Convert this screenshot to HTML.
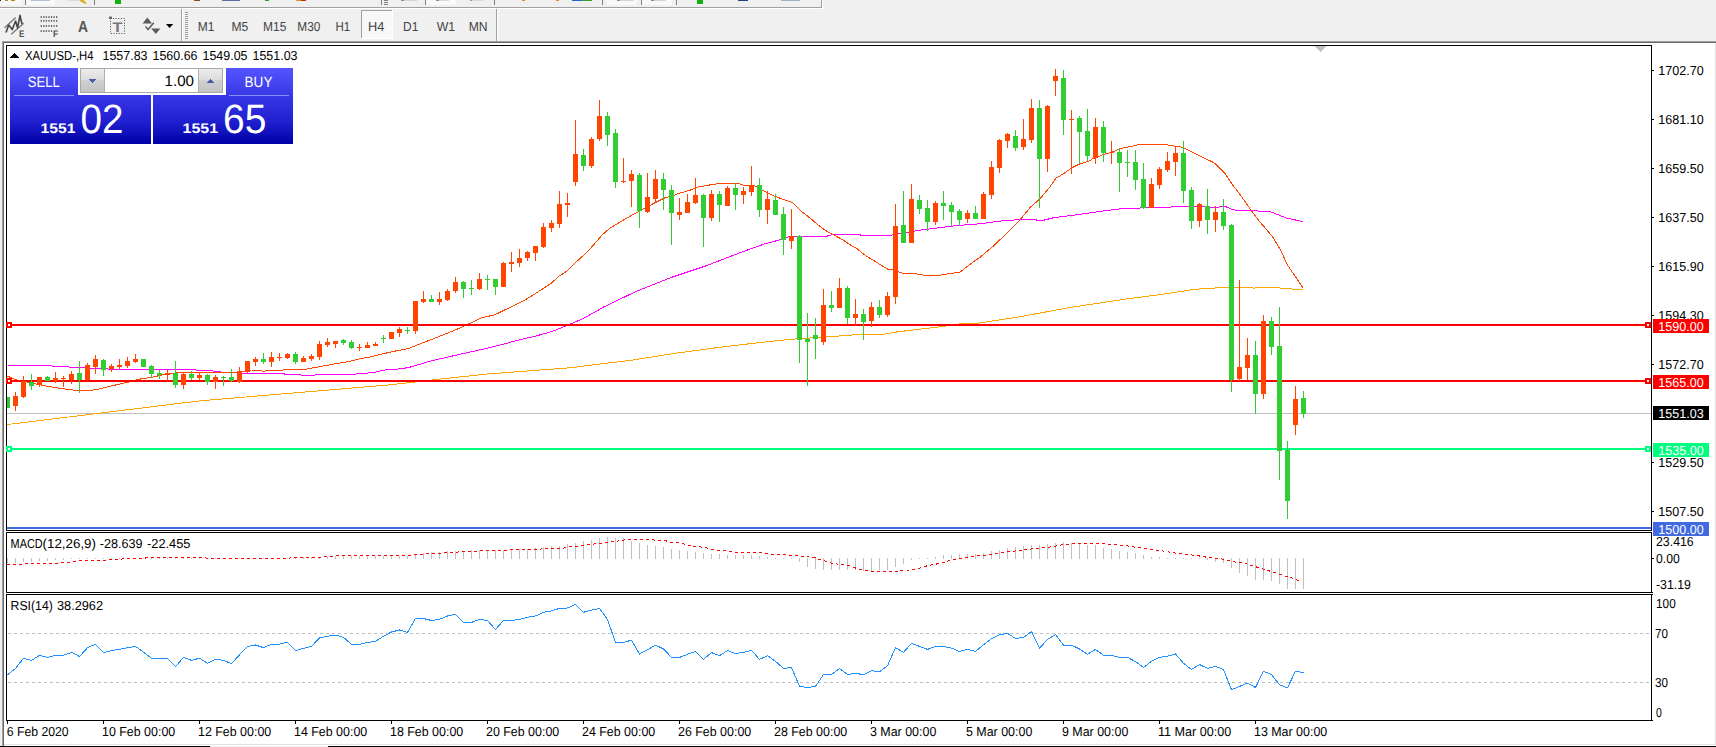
<!DOCTYPE html>
<html lang="en"><head><meta charset="utf-8"><title>XAUUSD-,H4</title>
<style>html,body{margin:0;padding:0;background:#f0f0f0;overflow:hidden}body{width:1716px;height:747px;font-family:"Liberation Sans",sans-serif}svg{display:block}</style>
</head><body>
<svg width="1716" height="747" viewBox="0 0 1716 747" shape-rendering="crispEdges" font-family="'Liberation Sans', sans-serif" text-rendering="geometricPrecision">
<rect x="0" y="0" width="1716" height="747" fill="#f0f0f0"/>
<rect x="0" y="7" width="822" height="1" fill="#a0a0a0"/>
<rect x="0" y="8" width="823" height="1" fill="#ffffff"/>
<rect x="821" y="0" width="1" height="8" fill="#a0a0a0"/>
<rect x="822" y="0" width="1" height="9" fill="#ffffff"/>
<rect x="0" y="0" width="21" height="5" fill="#f9f9f9"/>
<rect x="27" y="0" width="28" height="5" fill="#f9f9f9"/>
<rect x="426" y="0" width="30" height="5" fill="#f9f9f9"/>
<rect x="607" y="0" width="30" height="5" fill="#f9f9f9"/>
<rect x="642" y="0" width="30" height="5" fill="#f9f9f9"/>
<rect x="25" y="0" width="1" height="5" fill="#808080"/>
<rect x="94" y="0" width="1" height="5" fill="#808080"/>
<rect x="381" y="0" width="1" height="5" fill="#808080"/>
<rect x="425" y="0" width="1" height="5" fill="#808080"/>
<rect x="494" y="0" width="1" height="5" fill="#808080"/>
<rect x="602" y="0" width="1" height="5" fill="#808080"/>
<rect x="641" y="0" width="1" height="5" fill="#808080"/>
<rect x="676" y="0" width="1" height="5" fill="#808080"/>
<rect x="5" y="0" width="3" height="1" fill="#b88428"/>
<rect x="11" y="0" width="4" height="1" fill="#b88428"/>
<rect x="0" y="0" width="1" height="1" fill="#202020"/>
<rect x="31" y="0" width="19" height="1" fill="#b4c0d2"/>
<path d="M79 0 L83.5 0 L87 3 L85 4 L80.5 1.5 Z" fill="#e2b030" shape-rendering="geometricPrecision"/>
<rect x="67" y="0" width="12" height="1" fill="#dcdcdc"/>
<rect x="115" y="0" width="6" height="4" fill="#10b010"/>
<rect x="194" y="0" width="6" height="1" fill="#8a4a10"/>
<rect x="222" y="0" width="18" height="1" fill="#5a70a8"/>
<rect x="265" y="0" width="4" height="1" fill="#30a030"/>
<rect x="296" y="0" width="5" height="1" fill="#d0a010"/>
<rect x="301" y="0" width="5" height="1" fill="#c03010"/>
<rect x="522" y="0" width="3" height="1" fill="#d09020"/>
<rect x="556" y="0" width="3" height="1" fill="#d09020"/>
<rect x="572" y="0" width="10" height="1" fill="#3060d0"/>
<rect x="582" y="0" width="10" height="1" fill="#30a030"/>
<rect x="697" y="0" width="6" height="4" fill="#16b016"/>
<rect x="738" y="0" width="10" height="1" fill="#204080"/>
<rect x="781" y="0" width="19" height="1" fill="#a0b0c8"/>
<rect x="384" y="0" width="4" height="1" fill="#808080"/>
<rect x="384" y="2" width="4" height="1" fill="#808080"/>
<rect x="384" y="4" width="4" height="1" fill="#808080"/>
<rect x="401" y="0" width="16" height="1" fill="#d4d4d4"/>
<rect x="401" y="0" width="3" height="1" fill="#8a8a8a"/>
<rect x="436" y="0" width="13" height="1" fill="#d9d9d9"/>
<rect x="436" y="0" width="3" height="1" fill="#8a8a8a"/>
<rect x="470" y="0" width="14" height="1" fill="#dcdcdc"/>
<rect x="470" y="0" width="2" height="1" fill="#9a9a9a"/>
<rect x="617" y="0" width="3" height="1" fill="#8a8a8a"/>
<rect x="620" y="0" width="14" height="1" fill="#d4d4d4"/>
<rect x="651" y="0" width="3" height="1" fill="#8a8a8a"/>
<rect x="654" y="0" width="12" height="1" fill="#d4d4d4"/>
<rect x="181" y="9" width="1" height="32" fill="#a0a0a0"/>
<rect x="182" y="9" width="1" height="32" fill="#ffffff"/>
<rect x="185" y="12" width="3" height="1" fill="#a0a0a0"/>
<rect x="185" y="14" width="3" height="1" fill="#a0a0a0"/>
<rect x="185" y="16" width="3" height="1" fill="#a0a0a0"/>
<rect x="185" y="18" width="3" height="1" fill="#a0a0a0"/>
<rect x="185" y="20" width="3" height="1" fill="#a0a0a0"/>
<rect x="185" y="22" width="3" height="1" fill="#a0a0a0"/>
<rect x="185" y="24" width="3" height="1" fill="#a0a0a0"/>
<rect x="185" y="26" width="3" height="1" fill="#a0a0a0"/>
<rect x="185" y="28" width="3" height="1" fill="#a0a0a0"/>
<rect x="185" y="30" width="3" height="1" fill="#a0a0a0"/>
<rect x="185" y="32" width="3" height="1" fill="#a0a0a0"/>
<rect x="185" y="34" width="3" height="1" fill="#a0a0a0"/>
<rect x="185" y="36" width="3" height="1" fill="#a0a0a0"/>
<rect x="185" y="38" width="3" height="1" fill="#a0a0a0"/>
<rect x="496" y="9" width="1" height="32" fill="#a0a0a0"/>
<rect x="497" y="9" width="1" height="32" fill="#ffffff"/>
<rect x="361" y="10" width="32" height="29" fill="#f8f8f8"/>
<rect x="361" y="10" width="32" height="1" fill="#a0a0a0"/>
<rect x="361" y="10" width="1" height="29" fill="#a0a0a0"/>
<rect x="361" y="38" width="32" height="1" fill="#ffffff"/>
<rect x="392" y="10" width="1" height="29" fill="#ffffff"/>
<text x="197.7" y="30.6" font-size="13" fill="#454545" textLength="16.6" lengthAdjust="spacingAndGlyphs">M1</text>
<text x="231.5" y="30.6" font-size="13" fill="#454545" textLength="16.8" lengthAdjust="spacingAndGlyphs">M5</text>
<text x="263.0" y="30.6" font-size="13" fill="#454545" textLength="23.3" lengthAdjust="spacingAndGlyphs">M15</text>
<text x="297.3" y="30.6" font-size="13" fill="#454545" textLength="23.0" lengthAdjust="spacingAndGlyphs">M30</text>
<text x="335.5" y="30.6" font-size="13" fill="#454545" textLength="14.7" lengthAdjust="spacingAndGlyphs">H1</text>
<text x="368.0" y="30.6" font-size="13" fill="#454545" textLength="16.3" lengthAdjust="spacingAndGlyphs">H4</text>
<text x="403.09999999999997" y="30.6" font-size="13" fill="#454545" textLength="15.299999999999999" lengthAdjust="spacingAndGlyphs">D1</text>
<text x="436.7" y="30.6" font-size="13" fill="#454545" textLength="18.400000000000002" lengthAdjust="spacingAndGlyphs">W1</text>
<text x="468.7" y="30.6" font-size="13" fill="#454545" textLength="18.900000000000002" lengthAdjust="spacingAndGlyphs">MN</text>
<g shape-rendering="geometricPrecision">
<path d="M4.6 27.8 L15.7 17.6 M11.2 34.2 L23.7 23.2" stroke="#7a7a7a" stroke-width="1.4" fill="none"/>
<path d="M6 32.6 L8.7 25 L12.2 29.6 L15.6 21 L17.6 28 L20 15.4 L22 24" stroke="#484848" stroke-width="1.6" fill="none" stroke-linejoin="round"/>
<text x="19" y="36.8" font-size="9.5" fill="#505050" textLength="5.4" lengthAdjust="spacingAndGlyphs" font-weight="bold">E</text>
<rect x="40.60" y="16.1" width="1.3" height="1.9" fill="#686868"/>
<rect x="43.17" y="16.1" width="1.3" height="1.9" fill="#686868"/>
<rect x="45.74" y="16.1" width="1.3" height="1.9" fill="#686868"/>
<rect x="48.31" y="16.1" width="1.3" height="1.9" fill="#686868"/>
<rect x="50.88" y="16.1" width="1.3" height="1.9" fill="#686868"/>
<rect x="53.45" y="16.1" width="1.3" height="1.9" fill="#686868"/>
<rect x="56.02" y="16.1" width="1.3" height="1.9" fill="#686868"/>
<rect x="40.60" y="19.9" width="1.3" height="1.9" fill="#686868"/>
<rect x="43.17" y="19.9" width="1.3" height="1.9" fill="#686868"/>
<rect x="45.74" y="19.9" width="1.3" height="1.9" fill="#686868"/>
<rect x="48.31" y="19.9" width="1.3" height="1.9" fill="#686868"/>
<rect x="50.88" y="19.9" width="1.3" height="1.9" fill="#686868"/>
<rect x="53.45" y="19.9" width="1.3" height="1.9" fill="#686868"/>
<rect x="56.02" y="19.9" width="1.3" height="1.9" fill="#686868"/>
<rect x="40.60" y="25.0" width="1.3" height="1.9" fill="#686868"/>
<rect x="43.17" y="25.0" width="1.3" height="1.9" fill="#686868"/>
<rect x="45.74" y="25.0" width="1.3" height="1.9" fill="#686868"/>
<rect x="48.31" y="25.0" width="1.3" height="1.9" fill="#686868"/>
<rect x="50.88" y="25.0" width="1.3" height="1.9" fill="#686868"/>
<rect x="53.45" y="25.0" width="1.3" height="1.9" fill="#686868"/>
<rect x="56.02" y="25.0" width="1.3" height="1.9" fill="#686868"/>
<rect x="40.60" y="30.1" width="1.3" height="1.9" fill="#686868"/>
<rect x="43.17" y="30.1" width="1.3" height="1.9" fill="#686868"/>
<rect x="45.74" y="30.1" width="1.3" height="1.9" fill="#686868"/>
<rect x="48.31" y="30.1" width="1.3" height="1.9" fill="#686868"/>
<rect x="50.88" y="30.1" width="1.3" height="1.9" fill="#686868"/>
<text x="53" y="36.8" font-size="9.5" fill="#505050" textLength="5.2" lengthAdjust="spacingAndGlyphs" font-weight="bold">F</text>
<text x="78" y="32" font-size="16" fill="#555" textLength="10" lengthAdjust="spacingAndGlyphs" font-weight="bold">A</text>
<rect x="110.5" y="18.5" width="14" height="15" fill="none" stroke="#444" stroke-width="1" stroke-dasharray="1 1.6"/>
<rect x="109" y="16.6" width="3" height="2.4" fill="#666"/>
<text x="112.5" y="31.5" font-size="14" fill="#777" textLength="10" lengthAdjust="spacingAndGlyphs" font-weight="bold">T</text>
<path d="M142.6 23.4 L147.3 17.6 L152 23.4 Z M151.2 28.4 L160.4 28.4 L155.8 34 Z" fill="#5c5c5c"/><path d="M145.4 26.4 L148 29.6 L153.8 22.8" stroke="#5c5c5c" stroke-width="1.5" fill="none"/>
<path d="M166 24 L173.2 24 L169.6 28 Z" fill="#000"/>
</g>
<rect x="0" y="41" width="1716" height="1" fill="#a0a0a0"/>
<rect x="0" y="42" width="1716" height="1" fill="#696969"/>
<rect x="0" y="41" width="2" height="706" fill="#f0f0f0"/>
<rect x="2" y="41" width="1" height="706" fill="#a0a0a0"/>
<rect x="3" y="42" width="1" height="705" fill="#696969"/>
<rect x="4" y="43" width="1711" height="701" fill="#ffffff"/>
<rect x="1715" y="43" width="1" height="701" fill="#e3e3e3"/>
<rect x="4" y="744" width="1712" height="1" fill="#e3e3e3"/>
<rect x="4" y="745" width="1712" height="1" fill="#ffffff"/>
<rect x="0" y="746" width="210" height="1" fill="#000"/>
<rect x="210" y="746" width="118" height="1" fill="#f0f0f0"/>
<rect x="328" y="746" width="1388" height="1" fill="#000"/>
<rect x="6" y="45" width="1646" height="1" fill="#000"/>
<rect x="6" y="530" width="1646" height="1" fill="#000"/>
<rect x="6" y="45" width="1" height="486" fill="#000"/>
<rect x="1651" y="45" width="1" height="486" fill="#000"/>
<rect x="6" y="532" width="1646" height="1" fill="#000"/>
<rect x="6" y="592" width="1646" height="1" fill="#000"/>
<rect x="6" y="532" width="1" height="61" fill="#000"/>
<rect x="1651" y="532" width="1" height="61" fill="#000"/>
<rect x="6" y="594" width="1646" height="1" fill="#000"/>
<rect x="6" y="720" width="1646" height="1" fill="#000"/>
<rect x="6" y="594" width="1" height="127" fill="#000"/>
<rect x="1651" y="594" width="1" height="127" fill="#000"/>
<path d="M1314 46 L1326 46 L1320 52 Z" fill="#c0c0c0"/>
<rect x="7" y="413" width="1646" height="1" fill="#c0c0c0"/>
<polyline points="7.5,424.5 200.5,400.8 251.5,396.5 390.5,384.8 438.3,379.3 486.1,374.1 533.9,370.5 572.1,367.6 605.5,363.3 629.5,360.5 677.2,353.0 725.0,346.6 772.8,341.1 797.9,338.7 815.5,337.7 862.1,334.3 883.1,334.3 897.1,331.9 947.2,325.9 963.5,323.2 978.7,323.1 1016.5,317.3 1072.4,307.1 1128.3,298.7 1160.5,294.6 1179.1,291.7 1195.5,289.2 1218.8,287.8 1251.4,287.2 1253.7,288.3 1259.5,287.2 1275.9,287.2 1285.2,288.9 1303.3,289.2" fill="none" stroke="#FFA500" stroke-width="1"/>
<polyline points="7.5,365.3 51.5,365.3 52.5,366.6 68.5,366.6 69.5,367.6 84.5,367.6 85.5,368.8 107.5,368.8 108.5,369.7 195.5,369.7 196.5,370.4 211.5,370.4 213.0,371.2 220.0,371.2 221.0,372.5 236.5,372.7 237.5,373.0 244.5,373.5 284.1,373.5 285.2,374.7 300.5,374.7 301.5,375.5 314.5,375.5 315.5,374.5 355.2,374.5 356.3,373.5 370.3,372.9 377.3,371.8 382.0,370.6 387.8,369.6 395.5,369.4 408.5,367.6 431.1,360.9 462.2,353.8 486.1,348.5 501.4,344.7 519.0,339.9 535.1,336.2 551.2,331.8 567.2,325.4 583.3,318.5 600.5,308.9 604.0,306.8 635.5,291.7 670.5,277.7 705.5,266.0 740.4,252.6 763.7,244.2 782.3,239.2 789.3,236.5 827.1,236.2 828.3,235.3 835.3,234.4 859.8,234.4 860.9,235.3 891.2,235.3 893.5,234.1 908.7,232.1 920.4,230.1 932.0,228.6 943.7,227.2 955.3,225.7 960.5,225.5 967.0,224.5 979.1,223.9 1003.6,220.6 1018.8,219.7 1036.3,219.7 1037.4,220.6 1042.1,220.6 1053.7,217.7 1077.0,214.8 1100.4,211.3 1123.7,208.4 1160.5,207.5 1171.0,207.0 1172.2,206.1 1203.5,206.1 1204.8,207.0 1218.8,207.0 1219.9,206.1 1225.2,206.1 1226.5,207.0 1230.4,208.8 1237.4,210.8 1267.7,211.1 1272.4,212.5 1286.4,218.0 1294.5,219.8 1303.3,221.7" fill="none" stroke="#FF00FF" stroke-width="1"/>
<polyline points="7.5,376.1 15.5,379.6 40.1,384.9 56.5,387.8 68.1,389.5 79.5,390.7 91.5,390.3 99.5,389.0 111.2,386.0 128.5,382.0 140.5,379.0 152.0,377.3 163.5,374.6 175.5,372.9 181.2,372.3 200.5,372.5 237.5,372.9 244.5,371.2 251.5,370.0 258.5,370.0 263.1,371.2 267.5,370.8 282.9,370.0 306.2,369.1 323.7,365.9 335.4,363.8 347.0,361.9 358.7,359.0 370.3,357.0 382.0,354.0 395.5,351.0 408.5,348.5 417.8,344.7 438.7,336.7 454.8,330.2 470.8,323.0 480.5,318.2 494.9,314.7 511.0,306.9 523.9,300.5 535.1,293.8 551.2,283.2 559.2,276.1 567.2,270.8 575.3,262.8 583.3,255.5 591.3,247.5 602.2,234.9 610.3,227.9 625.5,218.8 639.5,211.0 653.5,203.5 666.3,197.1 672.1,196.7 677.9,193.6 689.5,190.4 697.7,187.1 707.1,185.4 716.4,183.9 724.5,183.1 737.4,183.1 743.2,185.0 753.7,185.5 758.3,187.7 765.3,191.8 774.6,196.2 781.6,198.8 792.2,202.4 800.3,210.5 810.8,218.7 819.0,225.7 827.1,231.5 834.1,235.0 843.4,240.3 850.4,244.9 857.4,249.0 864.4,254.8 876.1,262.0 887.7,269.2 893.5,269.9 902.9,273.3 914.5,273.6 926.2,275.6 937.8,275.6 949.5,273.6 960.0,272.2 967.0,266.7 973.4,261.8 980.5,256.9 992.5,246.8 1004.8,235.2 1019.9,220.0 1030.4,207.2 1039.8,199.0 1049.1,188.0 1056.1,178.1 1063.1,174.0 1071.2,168.2 1077.0,165.2 1089.9,160.6 1092.1,159.1 1103.7,154.5 1111.9,152.1 1121.2,148.4 1130.5,146.6 1139.8,144.3 1164.3,144.3 1172.2,145.7 1182.6,147.2 1200.1,156.2 1211.8,161.6 1215.3,163.6 1224.6,172.9 1232.8,185.1 1242.1,197.4 1250.2,209.0 1259.6,221.5 1272.4,236.5 1280.5,249.9 1287.5,265.0 1303.3,288.3" fill="none" stroke="#FF4500" stroke-width="1"/>
<rect x="7" y="324" width="1644" height="2" fill="#FF0000"/>
<rect x="6" y="322" width="6" height="6" fill="#FF0000"/>
<rect x="8" y="324" width="2" height="2" fill="#fff"/>
<rect x="1645" y="322" width="6" height="6" fill="#FF0000"/>
<rect x="1647" y="324" width="2" height="2" fill="#fff"/>
<rect x="7" y="380" width="1644" height="2" fill="#FF0000"/>
<rect x="6" y="378" width="6" height="6" fill="#FF0000"/>
<rect x="8" y="380" width="2" height="2" fill="#fff"/>
<rect x="1645" y="378" width="6" height="6" fill="#FF0000"/>
<rect x="1647" y="380" width="2" height="2" fill="#fff"/>
<rect x="7" y="448" width="1644" height="2" fill="#00FF7F"/>
<rect x="6" y="446" width="6" height="6" fill="#00FF7F"/>
<rect x="8" y="448" width="2" height="2" fill="#fff"/>
<rect x="1645" y="446" width="6" height="6" fill="#00FF7F"/>
<rect x="1647" y="448" width="2" height="2" fill="#fff"/>
<rect x="7" y="527" width="1644" height="2" fill="#4169E1"/>
<rect x="1651" y="45" width="1" height="486" fill="#000"/>
<rect x="6" y="45" width="1" height="486" fill="#000"/>
<rect x="6" y="322" width="6" height="6" fill="#FF0000"/>
<rect x="8" y="324" width="2" height="2" fill="#fff"/>
<rect x="6" y="378" width="6" height="6" fill="#FF0000"/>
<rect x="8" y="380" width="2" height="2" fill="#fff"/>
<rect x="6" y="446" width="6" height="6" fill="#00FF7F"/>
<rect x="8" y="448" width="2" height="2" fill="#fff"/>
<rect x="7" y="397" width="1" height="11" fill="#32CD32"/>
<rect x="7" y="397" width="3" height="11" fill="#32CD32"/>
<rect x="15" y="392" width="1" height="19" fill="#FF4500"/>
<rect x="13" y="396" width="5" height="10" fill="#FF4500"/>
<rect x="23" y="376" width="1" height="22" fill="#FF4500"/>
<rect x="21" y="381" width="5" height="16" fill="#FF4500"/>
<rect x="31" y="374" width="1" height="16" fill="#32CD32"/>
<rect x="29" y="382" width="5" height="4" fill="#32CD32"/>
<rect x="39" y="377" width="1" height="10" fill="#FF4500"/>
<rect x="37" y="377" width="5" height="8" fill="#FF4500"/>
<rect x="47" y="376" width="1" height="5" fill="#32CD32"/>
<rect x="45" y="377" width="5" height="4" fill="#32CD32"/>
<rect x="55" y="372" width="1" height="11" fill="#FF4500"/>
<rect x="53" y="378" width="5" height="3" fill="#FF4500"/>
<rect x="63" y="376" width="1" height="11" fill="#FF4500"/>
<rect x="61" y="378" width="5" height="1" fill="#FF4500"/>
<rect x="71" y="371" width="1" height="13" fill="#FF4500"/>
<rect x="69" y="374" width="5" height="6" fill="#FF4500"/>
<rect x="79" y="361" width="1" height="32" fill="#32CD32"/>
<rect x="77" y="373" width="5" height="7" fill="#32CD32"/>
<rect x="87" y="363" width="1" height="18" fill="#FF4500"/>
<rect x="85" y="365" width="5" height="15" fill="#FF4500"/>
<rect x="95" y="355" width="1" height="19" fill="#FF4500"/>
<rect x="93" y="359" width="5" height="8" fill="#FF4500"/>
<rect x="103" y="359" width="1" height="17" fill="#32CD32"/>
<rect x="101" y="360" width="5" height="10" fill="#32CD32"/>
<rect x="111" y="364" width="1" height="8" fill="#FF4500"/>
<rect x="109" y="366" width="5" height="3" fill="#FF4500"/>
<rect x="119" y="359" width="1" height="11" fill="#FF4500"/>
<rect x="117" y="365" width="5" height="2" fill="#FF4500"/>
<rect x="127" y="357" width="1" height="11" fill="#FF4500"/>
<rect x="125" y="361" width="5" height="5" fill="#FF4500"/>
<rect x="135" y="354" width="1" height="9" fill="#FF4500"/>
<rect x="133" y="359" width="5" height="3" fill="#FF4500"/>
<rect x="143" y="359" width="1" height="8" fill="#32CD32"/>
<rect x="141" y="359" width="5" height="8" fill="#32CD32"/>
<rect x="151" y="365" width="1" height="13" fill="#32CD32"/>
<rect x="149" y="366" width="5" height="8" fill="#32CD32"/>
<rect x="159" y="370" width="1" height="9" fill="#32CD32"/>
<rect x="157" y="373" width="5" height="2" fill="#32CD32"/>
<rect x="167" y="370" width="1" height="11" fill="#FF4500"/>
<rect x="165" y="373" width="5" height="2" fill="#FF4500"/>
<rect x="175" y="361" width="1" height="27" fill="#32CD32"/>
<rect x="173" y="373" width="5" height="12" fill="#32CD32"/>
<rect x="183" y="373" width="1" height="16" fill="#FF4500"/>
<rect x="181" y="374" width="5" height="11" fill="#FF4500"/>
<rect x="191" y="371" width="1" height="9" fill="#32CD32"/>
<rect x="189" y="374" width="5" height="4" fill="#32CD32"/>
<rect x="199" y="373" width="1" height="7" fill="#FF4500"/>
<rect x="197" y="375" width="5" height="3" fill="#FF4500"/>
<rect x="207" y="374" width="1" height="11" fill="#32CD32"/>
<rect x="205" y="375" width="5" height="7" fill="#32CD32"/>
<rect x="215" y="375" width="1" height="14" fill="#FF4500"/>
<rect x="213" y="377" width="5" height="5" fill="#FF4500"/>
<rect x="223" y="376" width="1" height="10" fill="#32CD32"/>
<rect x="221" y="377" width="5" height="1" fill="#32CD32"/>
<rect x="231" y="369" width="1" height="13" fill="#32CD32"/>
<rect x="229" y="377" width="5" height="4" fill="#32CD32"/>
<rect x="239" y="367" width="1" height="16" fill="#FF4500"/>
<rect x="237" y="371" width="5" height="11" fill="#FF4500"/>
<rect x="247" y="361" width="1" height="12" fill="#FF4500"/>
<rect x="245" y="361" width="5" height="11" fill="#FF4500"/>
<rect x="255" y="357" width="1" height="9" fill="#FF4500"/>
<rect x="253" y="359" width="5" height="3" fill="#FF4500"/>
<rect x="263" y="353" width="1" height="11" fill="#32CD32"/>
<rect x="261" y="359" width="5" height="3" fill="#32CD32"/>
<rect x="271" y="352" width="1" height="15" fill="#FF4500"/>
<rect x="269" y="357" width="5" height="5" fill="#FF4500"/>
<rect x="279" y="353" width="1" height="8" fill="#FF4500"/>
<rect x="277" y="357" width="5" height="1" fill="#FF4500"/>
<rect x="287" y="353" width="1" height="6" fill="#FF4500"/>
<rect x="285" y="354" width="5" height="4" fill="#FF4500"/>
<rect x="295" y="352" width="1" height="12" fill="#32CD32"/>
<rect x="293" y="354" width="5" height="8" fill="#32CD32"/>
<rect x="303" y="356" width="1" height="6" fill="#FF4500"/>
<rect x="301" y="358" width="5" height="4" fill="#FF4500"/>
<rect x="311" y="354" width="1" height="7" fill="#FF4500"/>
<rect x="309" y="356" width="5" height="3" fill="#FF4500"/>
<rect x="319" y="341" width="1" height="19" fill="#FF4500"/>
<rect x="317" y="344" width="5" height="13" fill="#FF4500"/>
<rect x="327" y="338" width="1" height="9" fill="#FF4500"/>
<rect x="325" y="342" width="5" height="3" fill="#FF4500"/>
<rect x="335" y="341" width="1" height="7" fill="#FF4500"/>
<rect x="333" y="341" width="5" height="3" fill="#FF4500"/>
<rect x="343" y="339" width="1" height="6" fill="#32CD32"/>
<rect x="341" y="340" width="5" height="3" fill="#32CD32"/>
<rect x="351" y="340" width="1" height="9" fill="#32CD32"/>
<rect x="349" y="342" width="5" height="6" fill="#32CD32"/>
<rect x="359" y="344" width="1" height="7" fill="#FF4500"/>
<rect x="357" y="347" width="5" height="1" fill="#FF4500"/>
<rect x="367" y="342" width="1" height="6" fill="#FF4500"/>
<rect x="365" y="345" width="5" height="3" fill="#FF4500"/>
<rect x="375" y="342" width="1" height="4" fill="#FF4500"/>
<rect x="373" y="344" width="5" height="2" fill="#FF4500"/>
<rect x="383" y="335" width="1" height="8" fill="#32CD32"/>
<rect x="381" y="338" width="5" height="1" fill="#32CD32"/>
<rect x="391" y="332" width="1" height="7" fill="#FF4500"/>
<rect x="389" y="332" width="5" height="7" fill="#FF4500"/>
<rect x="399" y="327" width="1" height="10" fill="#FF4500"/>
<rect x="397" y="329" width="5" height="4" fill="#FF4500"/>
<rect x="407" y="327" width="1" height="7" fill="#32CD32"/>
<rect x="405" y="330" width="5" height="1" fill="#32CD32"/>
<rect x="415" y="301" width="1" height="33" fill="#FF4500"/>
<rect x="413" y="301" width="5" height="30" fill="#FF4500"/>
<rect x="423" y="291" width="1" height="12" fill="#FF4500"/>
<rect x="421" y="299" width="5" height="3" fill="#FF4500"/>
<rect x="431" y="295" width="1" height="7" fill="#32CD32"/>
<rect x="429" y="299" width="5" height="3" fill="#32CD32"/>
<rect x="439" y="292" width="1" height="13" fill="#FF4500"/>
<rect x="437" y="299" width="5" height="3" fill="#FF4500"/>
<rect x="447" y="289" width="1" height="12" fill="#FF4500"/>
<rect x="445" y="291" width="5" height="9" fill="#FF4500"/>
<rect x="455" y="277" width="1" height="16" fill="#FF4500"/>
<rect x="453" y="282" width="5" height="9" fill="#FF4500"/>
<rect x="463" y="281" width="1" height="17" fill="#32CD32"/>
<rect x="461" y="282" width="5" height="7" fill="#32CD32"/>
<rect x="471" y="280" width="1" height="15" fill="#32CD32"/>
<rect x="469" y="288" width="5" height="1" fill="#32CD32"/>
<rect x="479" y="273" width="1" height="17" fill="#FF4500"/>
<rect x="477" y="279" width="5" height="10" fill="#FF4500"/>
<rect x="487" y="275" width="1" height="15" fill="#32CD32"/>
<rect x="485" y="279" width="5" height="1" fill="#32CD32"/>
<rect x="495" y="279" width="1" height="16" fill="#32CD32"/>
<rect x="493" y="279" width="5" height="8" fill="#32CD32"/>
<rect x="503" y="262" width="1" height="25" fill="#FF4500"/>
<rect x="501" y="263" width="5" height="24" fill="#FF4500"/>
<rect x="511" y="252" width="1" height="20" fill="#FF4500"/>
<rect x="509" y="262" width="5" height="2" fill="#FF4500"/>
<rect x="519" y="249" width="1" height="18" fill="#FF4500"/>
<rect x="517" y="258" width="5" height="5" fill="#FF4500"/>
<rect x="527" y="251" width="1" height="10" fill="#FF4500"/>
<rect x="525" y="252" width="5" height="6" fill="#FF4500"/>
<rect x="535" y="246" width="1" height="15" fill="#FF4500"/>
<rect x="533" y="246" width="5" height="7" fill="#FF4500"/>
<rect x="543" y="223" width="1" height="25" fill="#FF4500"/>
<rect x="541" y="227" width="5" height="20" fill="#FF4500"/>
<rect x="551" y="220" width="1" height="12" fill="#FF4500"/>
<rect x="549" y="223" width="5" height="5" fill="#FF4500"/>
<rect x="559" y="191" width="1" height="37" fill="#FF4500"/>
<rect x="557" y="204" width="5" height="20" fill="#FF4500"/>
<rect x="567" y="193" width="1" height="24" fill="#FF4500"/>
<rect x="565" y="203" width="5" height="2" fill="#FF4500"/>
<rect x="575" y="120" width="1" height="66" fill="#FF4500"/>
<rect x="573" y="154" width="5" height="28" fill="#FF4500"/>
<rect x="583" y="149" width="1" height="22" fill="#32CD32"/>
<rect x="581" y="155" width="5" height="11" fill="#32CD32"/>
<rect x="591" y="137" width="1" height="31" fill="#FF4500"/>
<rect x="589" y="139" width="5" height="27" fill="#FF4500"/>
<rect x="599" y="100" width="1" height="41" fill="#FF4500"/>
<rect x="597" y="116" width="5" height="23" fill="#FF4500"/>
<rect x="607" y="112" width="1" height="34" fill="#32CD32"/>
<rect x="605" y="116" width="5" height="19" fill="#32CD32"/>
<rect x="615" y="129" width="1" height="59" fill="#32CD32"/>
<rect x="613" y="133" width="5" height="49" fill="#32CD32"/>
<rect x="623" y="158" width="1" height="25" fill="#FF4500"/>
<rect x="621" y="181" width="5" height="1" fill="#FF4500"/>
<rect x="631" y="170" width="1" height="37" fill="#FF4500"/>
<rect x="629" y="174" width="5" height="7" fill="#FF4500"/>
<rect x="639" y="173" width="1" height="55" fill="#32CD32"/>
<rect x="637" y="175" width="5" height="36" fill="#32CD32"/>
<rect x="647" y="173" width="1" height="40" fill="#FF4500"/>
<rect x="645" y="197" width="5" height="15" fill="#FF4500"/>
<rect x="655" y="170" width="1" height="33" fill="#FF4500"/>
<rect x="653" y="179" width="5" height="20" fill="#FF4500"/>
<rect x="663" y="173" width="1" height="37" fill="#32CD32"/>
<rect x="661" y="179" width="5" height="11" fill="#32CD32"/>
<rect x="671" y="185" width="1" height="60" fill="#32CD32"/>
<rect x="669" y="190" width="5" height="23" fill="#32CD32"/>
<rect x="679" y="198" width="1" height="22" fill="#FF4500"/>
<rect x="677" y="212" width="5" height="3" fill="#FF4500"/>
<rect x="687" y="194" width="1" height="19" fill="#FF4500"/>
<rect x="685" y="202" width="5" height="11" fill="#FF4500"/>
<rect x="695" y="178" width="1" height="26" fill="#FF4500"/>
<rect x="693" y="195" width="5" height="8" fill="#FF4500"/>
<rect x="703" y="194" width="1" height="53" fill="#32CD32"/>
<rect x="701" y="195" width="5" height="23" fill="#32CD32"/>
<rect x="711" y="190" width="1" height="31" fill="#FF4500"/>
<rect x="709" y="194" width="5" height="24" fill="#FF4500"/>
<rect x="719" y="191" width="1" height="31" fill="#32CD32"/>
<rect x="717" y="194" width="5" height="11" fill="#32CD32"/>
<rect x="727" y="186" width="1" height="20" fill="#FF4500"/>
<rect x="725" y="188" width="5" height="18" fill="#FF4500"/>
<rect x="735" y="183" width="1" height="27" fill="#32CD32"/>
<rect x="733" y="188" width="5" height="7" fill="#32CD32"/>
<rect x="743" y="187" width="1" height="17" fill="#FF4500"/>
<rect x="741" y="191" width="5" height="4" fill="#FF4500"/>
<rect x="751" y="166" width="1" height="30" fill="#FF4500"/>
<rect x="749" y="185" width="5" height="7" fill="#FF4500"/>
<rect x="759" y="178" width="1" height="39" fill="#32CD32"/>
<rect x="757" y="185" width="5" height="25" fill="#32CD32"/>
<rect x="767" y="191" width="1" height="33" fill="#FF4500"/>
<rect x="765" y="199" width="5" height="11" fill="#FF4500"/>
<rect x="775" y="194" width="1" height="21" fill="#32CD32"/>
<rect x="773" y="200" width="5" height="15" fill="#32CD32"/>
<rect x="783" y="207" width="1" height="48" fill="#32CD32"/>
<rect x="781" y="214" width="5" height="26" fill="#32CD32"/>
<rect x="791" y="209" width="1" height="40" fill="#FF4500"/>
<rect x="789" y="236" width="5" height="5" fill="#FF4500"/>
<rect x="799" y="235" width="1" height="128" fill="#32CD32"/>
<rect x="797" y="236" width="5" height="104" fill="#32CD32"/>
<rect x="807" y="313" width="1" height="73" fill="#32CD32"/>
<rect x="805" y="339" width="5" height="3" fill="#32CD32"/>
<rect x="815" y="318" width="1" height="41" fill="#32CD32"/>
<rect x="813" y="335" width="5" height="4" fill="#32CD32"/>
<rect x="823" y="289" width="1" height="56" fill="#FF4500"/>
<rect x="821" y="305" width="5" height="37" fill="#FF4500"/>
<rect x="831" y="291" width="1" height="21" fill="#32CD32"/>
<rect x="829" y="305" width="5" height="3" fill="#32CD32"/>
<rect x="839" y="278" width="1" height="30" fill="#FF4500"/>
<rect x="837" y="288" width="5" height="20" fill="#FF4500"/>
<rect x="847" y="286" width="1" height="38" fill="#32CD32"/>
<rect x="845" y="288" width="5" height="30" fill="#32CD32"/>
<rect x="855" y="299" width="1" height="26" fill="#FF4500"/>
<rect x="853" y="314" width="5" height="4" fill="#FF4500"/>
<rect x="863" y="309" width="1" height="31" fill="#32CD32"/>
<rect x="861" y="314" width="5" height="8" fill="#32CD32"/>
<rect x="871" y="302" width="1" height="25" fill="#FF4500"/>
<rect x="869" y="307" width="5" height="14" fill="#FF4500"/>
<rect x="879" y="300" width="1" height="18" fill="#32CD32"/>
<rect x="877" y="307" width="5" height="8" fill="#32CD32"/>
<rect x="887" y="292" width="1" height="25" fill="#FF4500"/>
<rect x="885" y="296" width="5" height="19" fill="#FF4500"/>
<rect x="895" y="204" width="1" height="100" fill="#FF4500"/>
<rect x="893" y="226" width="5" height="71" fill="#FF4500"/>
<rect x="903" y="191" width="1" height="52" fill="#32CD32"/>
<rect x="901" y="225" width="5" height="18" fill="#32CD32"/>
<rect x="911" y="184" width="1" height="59" fill="#FF4500"/>
<rect x="909" y="199" width="5" height="44" fill="#FF4500"/>
<rect x="919" y="195" width="1" height="19" fill="#32CD32"/>
<rect x="917" y="200" width="5" height="9" fill="#32CD32"/>
<rect x="927" y="200" width="1" height="31" fill="#32CD32"/>
<rect x="925" y="208" width="5" height="14" fill="#32CD32"/>
<rect x="935" y="201" width="1" height="24" fill="#FF4500"/>
<rect x="933" y="203" width="5" height="19" fill="#FF4500"/>
<rect x="943" y="191" width="1" height="29" fill="#32CD32"/>
<rect x="941" y="203" width="5" height="3" fill="#32CD32"/>
<rect x="951" y="202" width="1" height="24" fill="#32CD32"/>
<rect x="949" y="205" width="5" height="7" fill="#32CD32"/>
<rect x="959" y="209" width="1" height="17" fill="#32CD32"/>
<rect x="957" y="211" width="5" height="9" fill="#32CD32"/>
<rect x="967" y="210" width="1" height="13" fill="#FF4500"/>
<rect x="965" y="213" width="5" height="6" fill="#FF4500"/>
<rect x="975" y="206" width="1" height="13" fill="#32CD32"/>
<rect x="973" y="213" width="5" height="6" fill="#32CD32"/>
<rect x="983" y="192" width="1" height="27" fill="#FF4500"/>
<rect x="981" y="194" width="5" height="25" fill="#FF4500"/>
<rect x="991" y="161" width="1" height="38" fill="#FF4500"/>
<rect x="989" y="167" width="5" height="28" fill="#FF4500"/>
<rect x="999" y="139" width="1" height="34" fill="#FF4500"/>
<rect x="997" y="140" width="5" height="28" fill="#FF4500"/>
<rect x="1007" y="133" width="1" height="15" fill="#FF4500"/>
<rect x="1005" y="134" width="5" height="7" fill="#FF4500"/>
<rect x="1015" y="130" width="1" height="21" fill="#32CD32"/>
<rect x="1013" y="136" width="5" height="12" fill="#32CD32"/>
<rect x="1023" y="119" width="1" height="31" fill="#FF4500"/>
<rect x="1021" y="139" width="5" height="8" fill="#FF4500"/>
<rect x="1031" y="99" width="1" height="44" fill="#FF4500"/>
<rect x="1029" y="108" width="5" height="32" fill="#FF4500"/>
<rect x="1039" y="100" width="1" height="108" fill="#32CD32"/>
<rect x="1037" y="108" width="5" height="51" fill="#32CD32"/>
<rect x="1047" y="105" width="1" height="67" fill="#FF4500"/>
<rect x="1045" y="106" width="5" height="53" fill="#FF4500"/>
<rect x="1055" y="69" width="1" height="27" fill="#FF4500"/>
<rect x="1053" y="76" width="5" height="5" fill="#FF4500"/>
<rect x="1063" y="70" width="1" height="65" fill="#32CD32"/>
<rect x="1061" y="78" width="5" height="42" fill="#32CD32"/>
<rect x="1071" y="110" width="1" height="64" fill="#FF4500"/>
<rect x="1069" y="119" width="5" height="1" fill="#FF4500"/>
<rect x="1079" y="116" width="1" height="48" fill="#32CD32"/>
<rect x="1077" y="118" width="5" height="14" fill="#32CD32"/>
<rect x="1087" y="109" width="1" height="52" fill="#32CD32"/>
<rect x="1085" y="131" width="5" height="25" fill="#32CD32"/>
<rect x="1095" y="118" width="1" height="46" fill="#FF4500"/>
<rect x="1093" y="127" width="5" height="31" fill="#FF4500"/>
<rect x="1103" y="121" width="1" height="41" fill="#32CD32"/>
<rect x="1101" y="127" width="5" height="26" fill="#32CD32"/>
<rect x="1111" y="141" width="1" height="23" fill="#FF4500"/>
<rect x="1109" y="152" width="5" height="1" fill="#FF4500"/>
<rect x="1119" y="148" width="1" height="44" fill="#32CD32"/>
<rect x="1117" y="152" width="5" height="11" fill="#32CD32"/>
<rect x="1127" y="150" width="1" height="27" fill="#32CD32"/>
<rect x="1125" y="162" width="5" height="1" fill="#32CD32"/>
<rect x="1135" y="150" width="1" height="40" fill="#32CD32"/>
<rect x="1133" y="162" width="5" height="18" fill="#32CD32"/>
<rect x="1143" y="163" width="1" height="46" fill="#32CD32"/>
<rect x="1141" y="179" width="5" height="29" fill="#32CD32"/>
<rect x="1151" y="178" width="1" height="30" fill="#FF4500"/>
<rect x="1149" y="184" width="5" height="24" fill="#FF4500"/>
<rect x="1159" y="167" width="1" height="22" fill="#FF4500"/>
<rect x="1157" y="169" width="5" height="16" fill="#FF4500"/>
<rect x="1167" y="152" width="1" height="20" fill="#FF4500"/>
<rect x="1165" y="161" width="5" height="9" fill="#FF4500"/>
<rect x="1175" y="146" width="1" height="30" fill="#FF4500"/>
<rect x="1173" y="153" width="5" height="9" fill="#FF4500"/>
<rect x="1183" y="141" width="1" height="62" fill="#32CD32"/>
<rect x="1181" y="153" width="5" height="38" fill="#32CD32"/>
<rect x="1191" y="187" width="1" height="42" fill="#32CD32"/>
<rect x="1189" y="190" width="5" height="31" fill="#32CD32"/>
<rect x="1199" y="203" width="1" height="24" fill="#FF4500"/>
<rect x="1197" y="204" width="5" height="17" fill="#FF4500"/>
<rect x="1207" y="189" width="1" height="45" fill="#32CD32"/>
<rect x="1205" y="206" width="5" height="14" fill="#32CD32"/>
<rect x="1215" y="206" width="1" height="26" fill="#FF4500"/>
<rect x="1213" y="212" width="5" height="8" fill="#FF4500"/>
<rect x="1223" y="199" width="1" height="31" fill="#32CD32"/>
<rect x="1221" y="212" width="5" height="14" fill="#32CD32"/>
<rect x="1231" y="224" width="1" height="168" fill="#32CD32"/>
<rect x="1229" y="225" width="5" height="155" fill="#32CD32"/>
<rect x="1239" y="280" width="1" height="101" fill="#FF4500"/>
<rect x="1237" y="367" width="5" height="12" fill="#FF4500"/>
<rect x="1247" y="338" width="1" height="42" fill="#FF4500"/>
<rect x="1245" y="355" width="5" height="13" fill="#FF4500"/>
<rect x="1255" y="341" width="1" height="73" fill="#32CD32"/>
<rect x="1253" y="355" width="5" height="39" fill="#32CD32"/>
<rect x="1263" y="315" width="1" height="84" fill="#FF4500"/>
<rect x="1261" y="321" width="5" height="73" fill="#FF4500"/>
<rect x="1271" y="317" width="1" height="38" fill="#32CD32"/>
<rect x="1269" y="321" width="5" height="26" fill="#32CD32"/>
<rect x="1279" y="307" width="1" height="173" fill="#32CD32"/>
<rect x="1277" y="346" width="5" height="105" fill="#32CD32"/>
<rect x="1287" y="441" width="1" height="78" fill="#32CD32"/>
<rect x="1285" y="450" width="5" height="51" fill="#32CD32"/>
<rect x="1295" y="386" width="1" height="49" fill="#FF4500"/>
<rect x="1293" y="399" width="5" height="26" fill="#FF4500"/>
<rect x="1303" y="391" width="1" height="27" fill="#32CD32"/>
<rect x="1301" y="398" width="5" height="16" fill="#32CD32"/>
<rect x="1652" y="70" width="2" height="1" fill="#000"/>
<text x="1658.3" y="75" font-size="13" fill="#000" textLength="45.4" lengthAdjust="spacingAndGlyphs">1702.70</text>
<rect x="1652" y="119" width="2" height="1" fill="#000"/>
<text x="1658.3" y="124" font-size="13" fill="#000" textLength="45.4" lengthAdjust="spacingAndGlyphs">1681.10</text>
<rect x="1652" y="168" width="2" height="1" fill="#000"/>
<text x="1658.3" y="173" font-size="13" fill="#000" textLength="45.4" lengthAdjust="spacingAndGlyphs">1659.50</text>
<rect x="1652" y="217" width="2" height="1" fill="#000"/>
<text x="1658.3" y="222" font-size="13" fill="#000" textLength="45.4" lengthAdjust="spacingAndGlyphs">1637.50</text>
<rect x="1652" y="266" width="2" height="1" fill="#000"/>
<text x="1658.3" y="271" font-size="13" fill="#000" textLength="45.4" lengthAdjust="spacingAndGlyphs">1615.90</text>
<rect x="1652" y="315" width="2" height="1" fill="#000"/>
<text x="1658.3" y="320" font-size="13" fill="#000" textLength="45.4" lengthAdjust="spacingAndGlyphs">1594.30</text>
<rect x="1652" y="364" width="2" height="1" fill="#000"/>
<text x="1658.3" y="369" font-size="13" fill="#000" textLength="45.4" lengthAdjust="spacingAndGlyphs">1572.70</text>
<rect x="1652" y="462" width="2" height="1" fill="#000"/>
<text x="1658.3" y="467" font-size="13" fill="#000" textLength="45.4" lengthAdjust="spacingAndGlyphs">1529.50</text>
<rect x="1652" y="511" width="2" height="1" fill="#000"/>
<text x="1658.3" y="516" font-size="13" fill="#000" textLength="45.4" lengthAdjust="spacingAndGlyphs">1507.50</text>
<rect x="1653" y="319" width="56" height="14" fill="#FF0000"/>
<text x="1658.3" y="331" font-size="13" fill="#fff" textLength="45.4" lengthAdjust="spacingAndGlyphs">1590.00</text>
<rect x="1653" y="375" width="56" height="14" fill="#FF0000"/>
<text x="1658.3" y="387" font-size="13" fill="#fff" textLength="45.4" lengthAdjust="spacingAndGlyphs">1565.00</text>
<rect x="1653" y="406" width="56" height="14" fill="#000"/>
<text x="1658.3" y="418" font-size="13" fill="#fff" textLength="45.4" lengthAdjust="spacingAndGlyphs">1551.03</text>
<rect x="1653" y="443" width="56" height="14" fill="#00FF7F"/>
<text x="1658.3" y="455" font-size="13" fill="#fff" textLength="45.4" lengthAdjust="spacingAndGlyphs">1535.00</text>
<rect x="1653" y="522" width="56" height="14" fill="#4169E1"/>
<text x="1658.3" y="534" font-size="13" fill="#fff" textLength="45.4" lengthAdjust="spacingAndGlyphs">1500.00</text>
<rect x="1652" y="413" width="1" height="1" fill="#c0c0c0"/>
<rect x="7" y="558" width="1" height="5" fill="#c0c0c0"/>
<rect x="15" y="558" width="1" height="5" fill="#c0c0c0"/>
<rect x="23" y="558" width="1" height="4" fill="#c0c0c0"/>
<rect x="31" y="558" width="1" height="4" fill="#c0c0c0"/>
<rect x="39" y="558" width="1" height="3" fill="#c0c0c0"/>
<rect x="47" y="558" width="1" height="3" fill="#c0c0c0"/>
<rect x="55" y="558" width="1" height="2" fill="#c0c0c0"/>
<rect x="63" y="558" width="1" height="2" fill="#c0c0c0"/>
<rect x="71" y="558" width="1" height="1" fill="#c0c0c0"/>
<rect x="79" y="558" width="1" height="1" fill="#c0c0c0"/>
<rect x="87" y="558" width="1" height="1" fill="#c0c0c0"/>
<rect x="95" y="558" width="1" height="1" fill="#c0c0c0"/>
<rect x="103" y="558" width="1" height="1" fill="#c0c0c0"/>
<rect x="111" y="558" width="1" height="1" fill="#c0c0c0"/>
<rect x="119" y="558" width="1" height="1" fill="#c0c0c0"/>
<rect x="127" y="558" width="1" height="1" fill="#c0c0c0"/>
<rect x="135" y="558" width="1" height="1" fill="#c0c0c0"/>
<rect x="143" y="558" width="1" height="1" fill="#c0c0c0"/>
<rect x="151" y="558" width="1" height="1" fill="#c0c0c0"/>
<rect x="159" y="558" width="1" height="1" fill="#c0c0c0"/>
<rect x="167" y="558" width="1" height="1" fill="#c0c0c0"/>
<rect x="175" y="558" width="1" height="1" fill="#c0c0c0"/>
<rect x="183" y="558" width="1" height="1" fill="#c0c0c0"/>
<rect x="191" y="558" width="1" height="1" fill="#c0c0c0"/>
<rect x="199" y="558" width="1" height="1" fill="#c0c0c0"/>
<rect x="207" y="558" width="1" height="1" fill="#c0c0c0"/>
<rect x="215" y="558" width="1" height="1" fill="#c0c0c0"/>
<rect x="223" y="558" width="1" height="1" fill="#c0c0c0"/>
<rect x="231" y="558" width="1" height="1" fill="#c0c0c0"/>
<rect x="239" y="558" width="1" height="1" fill="#c0c0c0"/>
<rect x="247" y="558" width="1" height="1" fill="#c0c0c0"/>
<rect x="255" y="558" width="1" height="1" fill="#c0c0c0"/>
<rect x="263" y="558" width="1" height="1" fill="#c0c0c0"/>
<rect x="271" y="558" width="1" height="1" fill="#c0c0c0"/>
<rect x="279" y="558" width="1" height="1" fill="#c0c0c0"/>
<rect x="287" y="558" width="1" height="1" fill="#c0c0c0"/>
<rect x="295" y="558" width="1" height="1" fill="#c0c0c0"/>
<rect x="303" y="557" width="1" height="2" fill="#c0c0c0"/>
<rect x="311" y="557" width="1" height="2" fill="#c0c0c0"/>
<rect x="319" y="557" width="1" height="2" fill="#c0c0c0"/>
<rect x="327" y="557" width="1" height="2" fill="#c0c0c0"/>
<rect x="335" y="556" width="1" height="3" fill="#c0c0c0"/>
<rect x="343" y="556" width="1" height="3" fill="#c0c0c0"/>
<rect x="351" y="556" width="1" height="3" fill="#c0c0c0"/>
<rect x="359" y="556" width="1" height="3" fill="#c0c0c0"/>
<rect x="367" y="556" width="1" height="3" fill="#c0c0c0"/>
<rect x="375" y="556" width="1" height="3" fill="#c0c0c0"/>
<rect x="383" y="556" width="1" height="3" fill="#c0c0c0"/>
<rect x="391" y="556" width="1" height="3" fill="#c0c0c0"/>
<rect x="399" y="556" width="1" height="3" fill="#c0c0c0"/>
<rect x="407" y="556" width="1" height="3" fill="#c0c0c0"/>
<rect x="415" y="554" width="1" height="5" fill="#c0c0c0"/>
<rect x="423" y="553" width="1" height="6" fill="#c0c0c0"/>
<rect x="431" y="552" width="1" height="7" fill="#c0c0c0"/>
<rect x="439" y="552" width="1" height="7" fill="#c0c0c0"/>
<rect x="447" y="551" width="1" height="8" fill="#c0c0c0"/>
<rect x="455" y="551" width="1" height="8" fill="#c0c0c0"/>
<rect x="463" y="551" width="1" height="8" fill="#c0c0c0"/>
<rect x="471" y="550" width="1" height="9" fill="#c0c0c0"/>
<rect x="479" y="550" width="1" height="9" fill="#c0c0c0"/>
<rect x="487" y="550" width="1" height="9" fill="#c0c0c0"/>
<rect x="495" y="550" width="1" height="9" fill="#c0c0c0"/>
<rect x="503" y="550" width="1" height="9" fill="#c0c0c0"/>
<rect x="511" y="550" width="1" height="9" fill="#c0c0c0"/>
<rect x="519" y="549" width="1" height="10" fill="#c0c0c0"/>
<rect x="527" y="549" width="1" height="10" fill="#c0c0c0"/>
<rect x="535" y="548" width="1" height="11" fill="#c0c0c0"/>
<rect x="543" y="547" width="1" height="12" fill="#c0c0c0"/>
<rect x="551" y="546" width="1" height="13" fill="#c0c0c0"/>
<rect x="559" y="546" width="1" height="13" fill="#c0c0c0"/>
<rect x="567" y="544" width="1" height="15" fill="#c0c0c0"/>
<rect x="575" y="543" width="1" height="16" fill="#c0c0c0"/>
<rect x="583" y="541" width="1" height="18" fill="#c0c0c0"/>
<rect x="591" y="540" width="1" height="19" fill="#c0c0c0"/>
<rect x="599" y="538" width="1" height="21" fill="#c0c0c0"/>
<rect x="607" y="537" width="1" height="22" fill="#c0c0c0"/>
<rect x="615" y="538" width="1" height="21" fill="#c0c0c0"/>
<rect x="623" y="538" width="1" height="21" fill="#c0c0c0"/>
<rect x="631" y="541" width="1" height="18" fill="#c0c0c0"/>
<rect x="639" y="543" width="1" height="16" fill="#c0c0c0"/>
<rect x="647" y="545" width="1" height="14" fill="#c0c0c0"/>
<rect x="655" y="546" width="1" height="13" fill="#c0c0c0"/>
<rect x="663" y="547" width="1" height="12" fill="#c0c0c0"/>
<rect x="671" y="549" width="1" height="10" fill="#c0c0c0"/>
<rect x="679" y="550" width="1" height="9" fill="#c0c0c0"/>
<rect x="687" y="551" width="1" height="8" fill="#c0c0c0"/>
<rect x="695" y="552" width="1" height="7" fill="#c0c0c0"/>
<rect x="703" y="553" width="1" height="6" fill="#c0c0c0"/>
<rect x="711" y="554" width="1" height="5" fill="#c0c0c0"/>
<rect x="719" y="554" width="1" height="5" fill="#c0c0c0"/>
<rect x="727" y="555" width="1" height="4" fill="#c0c0c0"/>
<rect x="735" y="555" width="1" height="4" fill="#c0c0c0"/>
<rect x="743" y="555" width="1" height="4" fill="#c0c0c0"/>
<rect x="751" y="555" width="1" height="4" fill="#c0c0c0"/>
<rect x="759" y="556" width="1" height="3" fill="#c0c0c0"/>
<rect x="767" y="557" width="1" height="2" fill="#c0c0c0"/>
<rect x="775" y="558" width="1" height="1" fill="#c0c0c0"/>
<rect x="783" y="558" width="1" height="1" fill="#c0c0c0"/>
<rect x="791" y="558" width="1" height="1" fill="#c0c0c0"/>
<rect x="799" y="558" width="1" height="4" fill="#c0c0c0"/>
<rect x="807" y="558" width="1" height="9" fill="#c0c0c0"/>
<rect x="815" y="558" width="1" height="11" fill="#c0c0c0"/>
<rect x="823" y="558" width="1" height="12" fill="#c0c0c0"/>
<rect x="831" y="558" width="1" height="12" fill="#c0c0c0"/>
<rect x="839" y="558" width="1" height="12" fill="#c0c0c0"/>
<rect x="847" y="558" width="1" height="12" fill="#c0c0c0"/>
<rect x="855" y="558" width="1" height="12" fill="#c0c0c0"/>
<rect x="863" y="558" width="1" height="13" fill="#c0c0c0"/>
<rect x="871" y="558" width="1" height="13" fill="#c0c0c0"/>
<rect x="879" y="558" width="1" height="12" fill="#c0c0c0"/>
<rect x="887" y="558" width="1" height="12" fill="#c0c0c0"/>
<rect x="895" y="558" width="1" height="9" fill="#c0c0c0"/>
<rect x="903" y="558" width="1" height="6" fill="#c0c0c0"/>
<rect x="911" y="558" width="1" height="2" fill="#c0c0c0"/>
<rect x="919" y="558" width="1" height="1" fill="#c0c0c0"/>
<rect x="927" y="558" width="1" height="1" fill="#c0c0c0"/>
<rect x="935" y="557" width="1" height="2" fill="#c0c0c0"/>
<rect x="943" y="555" width="1" height="4" fill="#c0c0c0"/>
<rect x="951" y="555" width="1" height="4" fill="#c0c0c0"/>
<rect x="959" y="554" width="1" height="5" fill="#c0c0c0"/>
<rect x="967" y="554" width="1" height="5" fill="#c0c0c0"/>
<rect x="975" y="554" width="1" height="5" fill="#c0c0c0"/>
<rect x="983" y="553" width="1" height="6" fill="#c0c0c0"/>
<rect x="991" y="551" width="1" height="8" fill="#c0c0c0"/>
<rect x="999" y="550" width="1" height="9" fill="#c0c0c0"/>
<rect x="1007" y="548" width="1" height="11" fill="#c0c0c0"/>
<rect x="1015" y="547" width="1" height="12" fill="#c0c0c0"/>
<rect x="1023" y="546" width="1" height="13" fill="#c0c0c0"/>
<rect x="1031" y="545" width="1" height="14" fill="#c0c0c0"/>
<rect x="1039" y="545" width="1" height="14" fill="#c0c0c0"/>
<rect x="1047" y="544" width="1" height="15" fill="#c0c0c0"/>
<rect x="1055" y="543" width="1" height="16" fill="#c0c0c0"/>
<rect x="1063" y="542" width="1" height="17" fill="#c0c0c0"/>
<rect x="1071" y="543" width="1" height="16" fill="#c0c0c0"/>
<rect x="1079" y="543" width="1" height="16" fill="#c0c0c0"/>
<rect x="1087" y="545" width="1" height="14" fill="#c0c0c0"/>
<rect x="1095" y="545" width="1" height="14" fill="#c0c0c0"/>
<rect x="1103" y="548" width="1" height="11" fill="#c0c0c0"/>
<rect x="1111" y="549" width="1" height="10" fill="#c0c0c0"/>
<rect x="1119" y="551" width="1" height="8" fill="#c0c0c0"/>
<rect x="1127" y="552" width="1" height="7" fill="#c0c0c0"/>
<rect x="1135" y="553" width="1" height="6" fill="#c0c0c0"/>
<rect x="1143" y="555" width="1" height="4" fill="#c0c0c0"/>
<rect x="1151" y="557" width="1" height="2" fill="#c0c0c0"/>
<rect x="1159" y="557" width="1" height="2" fill="#c0c0c0"/>
<rect x="1167" y="558" width="1" height="1" fill="#c0c0c0"/>
<rect x="1175" y="558" width="1" height="1" fill="#c0c0c0"/>
<rect x="1183" y="558" width="1" height="1" fill="#c0c0c0"/>
<rect x="1191" y="558" width="1" height="1" fill="#c0c0c0"/>
<rect x="1199" y="558" width="1" height="1" fill="#c0c0c0"/>
<rect x="1207" y="558" width="1" height="2" fill="#c0c0c0"/>
<rect x="1215" y="558" width="1" height="4" fill="#c0c0c0"/>
<rect x="1223" y="558" width="1" height="5" fill="#c0c0c0"/>
<rect x="1231" y="558" width="1" height="10" fill="#c0c0c0"/>
<rect x="1239" y="558" width="1" height="15" fill="#c0c0c0"/>
<rect x="1247" y="558" width="1" height="18" fill="#c0c0c0"/>
<rect x="1255" y="558" width="1" height="22" fill="#c0c0c0"/>
<rect x="1263" y="558" width="1" height="22" fill="#c0c0c0"/>
<rect x="1271" y="558" width="1" height="23" fill="#c0c0c0"/>
<rect x="1279" y="558" width="1" height="26" fill="#c0c0c0"/>
<rect x="1287" y="558" width="1" height="31" fill="#c0c0c0"/>
<rect x="1295" y="558" width="1" height="31" fill="#c0c0c0"/>
<rect x="1303" y="558" width="1" height="31" fill="#c0c0c0"/>
<polyline points="7.5,564.5 70.5,562.7 76.5,561.0 120.5,559.6 125.5,558.0 145.5,558.0 150.5,557.2 200.5,557.4 212.5,558.7 289.5,558.7 290.5,557.5 320.5,557.5 326.5,556.3 356.1,555.4 410.5,555.4 415.5,554.3 434.5,553.6 454.0,552.2 471.5,551.4 487.2,550.5 505.5,550.6 509.5,549.4 540.5,549.4 541.5,548.4 563.5,548.4 565.5,547.2 577.5,546.5 582.5,545.2 590.5,544.3 600.5,543.5 606.5,542.3 614.5,541.6 622.5,540.3 630.5,539.1 650.5,539.1 655.5,540.3 666.5,541.0 669.5,542.3 680.5,542.8 686.5,544.7 693.5,546.5 704.5,547.2 710.5,548.9 716.5,550.1 730.5,551.4 735.5,552.1 760.5,552.6 765.5,553.8 773.5,554.5 787.5,554.5 790.5,555.5 800.5,556.2 808.5,557.0 815.5,558.0 820.5,559.9 826.5,561.4 832.5,563.6 840.5,564.3 848.5,565.5 853.5,567.3 860.5,569.7 866.5,570.4 872.5,571.4 898.5,571.4 900.5,571.0 915.5,569.2 926.5,566.0 938.5,563.6 950.5,560.4 962.5,558.0 975.5,556.2 987.5,555.0 1000.5,552.6 1012.5,551.4 1025.5,549.6 1037.5,548.4 1050.5,547.0 1062.5,544.7 1075.5,543.5 1100.5,543.5 1110.5,544.5 1123.5,545.2 1135.5,547.2 1148.5,548.9 1160.5,550.6 1172.5,552.6 1184.5,554.3 1196.5,555.5 1208.5,557.5 1220.5,558.7 1232.5,561.6 1245.5,563.6 1257.5,567.3 1269.5,571.0 1282.5,575.1 1294.5,578.8 1300.5,581.5" fill="none" stroke="#FF0000" stroke-width="1" stroke-dasharray="3 3"/>
<text x="10.6" y="548" font-size="13" fill="#000" textLength="32" lengthAdjust="spacingAndGlyphs">MACD</text>
<text x="42.6" y="548" font-size="13" fill="#000" textLength="53.4" lengthAdjust="spacingAndGlyphs">(12,26,9)</text>
<text x="99.8" y="548" font-size="13" fill="#000" textLength="42.8" lengthAdjust="spacingAndGlyphs">-28.639</text>
<text x="147" y="548" font-size="13" fill="#000" textLength="43.4" lengthAdjust="spacingAndGlyphs">-22.455</text>
<text x="1656" y="546" font-size="13" fill="#000" textLength="37.7" lengthAdjust="spacingAndGlyphs">23.416</text>
<text x="1656" y="563" font-size="13" fill="#000" textLength="23.7" lengthAdjust="spacingAndGlyphs">0.00</text>
<text x="1656" y="589" font-size="13" fill="#000" textLength="35" lengthAdjust="spacingAndGlyphs">-31.19</text>
<rect x="1652" y="558" width="2" height="1" fill="#000"/>
<rect x="1652" y="592" width="1" height="1" fill="#000"/>
<line x1="7" y1="633.5" x2="1651" y2="633.5" stroke="#c0c0c0" stroke-width="1" stroke-dasharray="3 3" stroke-dashoffset="-1"/>
<line x1="7" y1="682.5" x2="1651" y2="682.5" stroke="#c0c0c0" stroke-width="1" stroke-dasharray="3 3" stroke-dashoffset="-1"/>
<polyline points="7.5,674.8 15.5,668.4 23.5,658.2 31.5,660.4 39.5,655.3 47.5,657.5 55.5,655.3 63.5,655.3 71.5,652.3 79.5,656.5 87.5,647.7 95.5,644.2 103.5,652.6 111.5,650.6 119.5,649.3 127.5,647.7 135.5,646.4 143.5,652.3 151.5,658.2 159.5,658.2 167.5,658.2 175.5,666.7 183.5,657.4 191.5,660.4 199.5,658.2 207.5,663.3 215.5,659.1 223.5,660.4 231.5,663.6 239.5,654.8 247.5,646.4 255.5,645.0 263.5,647.7 271.5,644.2 279.5,644.2 287.5,642.2 295.5,650.6 303.5,648.4 311.5,646.4 319.5,637.9 327.5,636.3 335.5,635.1 343.5,637.4 351.5,644.4 359.5,644.4 367.5,642.5 375.5,641.3 383.5,636.3 391.5,632.0 399.5,630.0 407.5,632.5 415.5,618.5 423.5,618.5 431.5,620.5 439.5,619.4 447.5,616.0 455.5,614.3 463.5,622.4 471.5,622.4 479.5,619.4 487.5,620.5 495.5,629.5 503.5,620.5 511.5,620.5 519.5,619.4 527.5,617.3 535.5,616.0 543.5,612.3 551.5,610.9 559.5,608.4 567.5,608.0 575.5,604.5 583.5,612.3 591.5,610.1 599.5,608.4 607.5,619.4 615.5,642.5 623.5,642.5 631.5,640.1 639.5,654.0 647.5,649.8 655.5,645.2 663.5,648.9 671.5,657.4 679.5,657.4 687.5,654.3 695.5,651.5 703.5,659.4 711.5,652.6 719.5,655.7 727.5,650.6 735.5,653.5 743.5,652.3 751.5,650.3 759.5,659.4 767.5,655.7 775.5,661.3 783.5,668.4 791.5,667.5 799.5,686.4 807.5,687.5 815.5,686.4 823.5,674.6 831.5,674.6 839.5,668.4 847.5,674.5 855.5,673.4 863.5,674.6 871.5,670.6 879.5,671.7 887.5,665.8 895.5,647.7 903.5,652.3 911.5,643.3 919.5,646.4 927.5,649.4 935.5,646.4 943.5,646.4 951.5,648.1 959.5,651.5 967.5,649.4 975.5,651.5 983.5,644.7 991.5,638.8 999.5,634.6 1007.5,633.4 1015.5,638.4 1023.5,637.4 1031.5,631.5 1039.5,648.4 1047.5,639.3 1055.5,634.6 1063.5,645.2 1071.5,645.2 1079.5,648.9 1087.5,654.3 1095.5,649.4 1103.5,655.3 1111.5,655.3 1119.5,657.4 1127.5,657.4 1135.5,661.6 1143.5,667.5 1151.5,661.3 1159.5,657.4 1167.5,656.2 1175.5,654.0 1183.5,663.3 1191.5,669.5 1199.5,664.5 1207.5,668.4 1215.5,666.3 1223.5,669.5 1231.5,689.8 1239.5,686.4 1247.5,683.1 1255.5,687.5 1263.5,671.2 1271.5,674.6 1279.5,684.8 1287.5,687.8 1295.5,671.2 1303.5,672.6" fill="none" stroke="#1E90FF" stroke-width="1"/>
<text x="10.6" y="610" font-size="13" fill="#000" textLength="42.2" lengthAdjust="spacingAndGlyphs">RSI(14)</text>
<text x="57" y="610" font-size="13" fill="#000" textLength="46" lengthAdjust="spacingAndGlyphs">38.2962</text>
<text x="1656" y="608" font-size="13" fill="#000" textLength="19.7" lengthAdjust="spacingAndGlyphs">100</text>
<text x="1655" y="638" font-size="13" fill="#000" textLength="13" lengthAdjust="spacingAndGlyphs">70</text>
<text x="1655" y="687" font-size="13" fill="#000" textLength="13" lengthAdjust="spacingAndGlyphs">30</text>
<text x="1656" y="717" font-size="13" fill="#000" textLength="5.8" lengthAdjust="spacingAndGlyphs">0</text>
<rect x="1652" y="594" width="1" height="1" fill="#000"/>
<rect x="1652" y="720" width="1" height="1" fill="#000"/>
<rect x="7" y="721" width="1" height="3" fill="#000"/>
<text x="6.7" y="736" font-size="13" fill="#000" textLength="62" lengthAdjust="spacingAndGlyphs">6 Feb 2020</text>
<rect x="103" y="721" width="1" height="3" fill="#000"/>
<text x="102" y="736" font-size="13" fill="#000" textLength="73.2" lengthAdjust="spacingAndGlyphs">10 Feb 00:00</text>
<rect x="199" y="721" width="1" height="3" fill="#000"/>
<text x="198" y="736" font-size="13" fill="#000" textLength="73.2" lengthAdjust="spacingAndGlyphs">12 Feb 00:00</text>
<rect x="295" y="721" width="1" height="3" fill="#000"/>
<text x="294" y="736" font-size="13" fill="#000" textLength="73.2" lengthAdjust="spacingAndGlyphs">14 Feb 00:00</text>
<rect x="391" y="721" width="1" height="3" fill="#000"/>
<text x="390" y="736" font-size="13" fill="#000" textLength="73.2" lengthAdjust="spacingAndGlyphs">18 Feb 00:00</text>
<rect x="487" y="721" width="1" height="3" fill="#000"/>
<text x="486" y="736" font-size="13" fill="#000" textLength="73.2" lengthAdjust="spacingAndGlyphs">20 Feb 00:00</text>
<rect x="583" y="721" width="1" height="3" fill="#000"/>
<text x="582" y="736" font-size="13" fill="#000" textLength="73.2" lengthAdjust="spacingAndGlyphs">24 Feb 00:00</text>
<rect x="679" y="721" width="1" height="3" fill="#000"/>
<text x="678" y="736" font-size="13" fill="#000" textLength="73.2" lengthAdjust="spacingAndGlyphs">26 Feb 00:00</text>
<rect x="775" y="721" width="1" height="3" fill="#000"/>
<text x="774" y="736" font-size="13" fill="#000" textLength="73.2" lengthAdjust="spacingAndGlyphs">28 Feb 00:00</text>
<rect x="871" y="721" width="1" height="3" fill="#000"/>
<text x="870" y="736" font-size="13" fill="#000" textLength="66.3" lengthAdjust="spacingAndGlyphs">3 Mar 00:00</text>
<rect x="967" y="721" width="1" height="3" fill="#000"/>
<text x="966" y="736" font-size="13" fill="#000" textLength="66.3" lengthAdjust="spacingAndGlyphs">5 Mar 00:00</text>
<rect x="1063" y="721" width="1" height="3" fill="#000"/>
<text x="1062" y="736" font-size="13" fill="#000" textLength="66.3" lengthAdjust="spacingAndGlyphs">9 Mar 00:00</text>
<rect x="1159" y="721" width="1" height="3" fill="#000"/>
<text x="1158" y="736" font-size="13" fill="#000" textLength="73.2" lengthAdjust="spacingAndGlyphs">11 Mar 00:00</text>
<rect x="1255" y="721" width="1" height="3" fill="#000"/>
<text x="1254" y="736" font-size="13" fill="#000" textLength="73.2" lengthAdjust="spacingAndGlyphs">13 Mar 00:00</text>
<path d="M10 58 L19 58 L14.5 53 Z" fill="#000"/>
<text x="25" y="60" font-size="13" fill="#000" textLength="68.5" lengthAdjust="spacingAndGlyphs">XAUUSD-,H4</text>
<text x="102.5" y="60" font-size="13" fill="#000" textLength="45" lengthAdjust="spacingAndGlyphs">1557.83</text>
<text x="152.5" y="60" font-size="13" fill="#000" textLength="45" lengthAdjust="spacingAndGlyphs">1560.66</text>
<text x="202.5" y="60" font-size="13" fill="#000" textLength="45" lengthAdjust="spacingAndGlyphs">1549.05</text>
<text x="252.5" y="60" font-size="13" fill="#000" textLength="45" lengthAdjust="spacingAndGlyphs">1551.03</text>
<defs><linearGradient id="pg" gradientUnits="userSpaceOnUse" x1="0" y1="68" x2="0" y2="144"><stop offset="0" stop-color="#5555ff"/><stop offset="0.35" stop-color="#3838e6"/><stop offset="0.7" stop-color="#2020d0"/><stop offset="1" stop-color="#0000a8"/></linearGradient><linearGradient id="bg" x1="0" y1="0" x2="0" y2="1"><stop offset="0" stop-color="#ececec"/><stop offset="0.49" stop-color="#dcdcdc"/><stop offset="0.5" stop-color="#d0d0d0"/><stop offset="1" stop-color="#c4c4c4"/></linearGradient></defs>
<rect x="10" y="68" width="68" height="27" fill="url(#pg)"/>
<rect x="226" y="68" width="67" height="27" fill="url(#pg)"/>
<rect x="10" y="95" width="141" height="49" fill="url(#pg)"/>
<rect x="153" y="95" width="140" height="49" fill="url(#pg)"/>
<rect x="78" y="68" width="148" height="27" fill="#fff"/>
<rect x="14" y="95" width="60" height="1" fill="#8c8cf5"/>
<rect x="229" y="95" width="60" height="1" fill="#8c8cf5"/>
<rect x="80.5" y="68.5" width="142" height="24" fill="#fff" stroke="#a8a8a8" stroke-width="1"/>
<rect x="81" y="69" width="23" height="23" fill="url(#bg)"/>
<rect x="104" y="69" width="1" height="23" fill="#b0b0b0"/>
<rect x="199" y="69" width="23" height="23" fill="url(#bg)"/>
<rect x="198" y="69" width="1" height="23" fill="#b0b0b0"/>
<path d="M89 79 L96 79 L92.5 83 Z" fill="#4a5aa5"/><path d="M207 83 L214 83 L210.5 79 Z" fill="#4a5aa5"/>
<text x="164.5" y="86" font-size="15" fill="#000" textLength="29.5" lengthAdjust="spacingAndGlyphs">1.00</text>
<text x="27.7" y="87" font-size="15" fill="#fff" textLength="32" lengthAdjust="spacingAndGlyphs">SELL</text>
<text x="244.6" y="87" font-size="15" fill="#fff" textLength="27.8" lengthAdjust="spacingAndGlyphs">BUY</text>
<text x="40.6" y="133" font-size="14" fill="#fff" textLength="35" lengthAdjust="spacingAndGlyphs" font-weight="bold">1551</text>
<text x="182.6" y="133" font-size="14" fill="#fff" textLength="35.5" lengthAdjust="spacingAndGlyphs" font-weight="bold">1551</text>
<text x="80.6" y="133" font-size="41" fill="#fff" textLength="43" lengthAdjust="spacingAndGlyphs">02</text>
<text x="223" y="133" font-size="41" fill="#fff" textLength="43.4" lengthAdjust="spacingAndGlyphs">65</text>
</svg>
</body></html>
